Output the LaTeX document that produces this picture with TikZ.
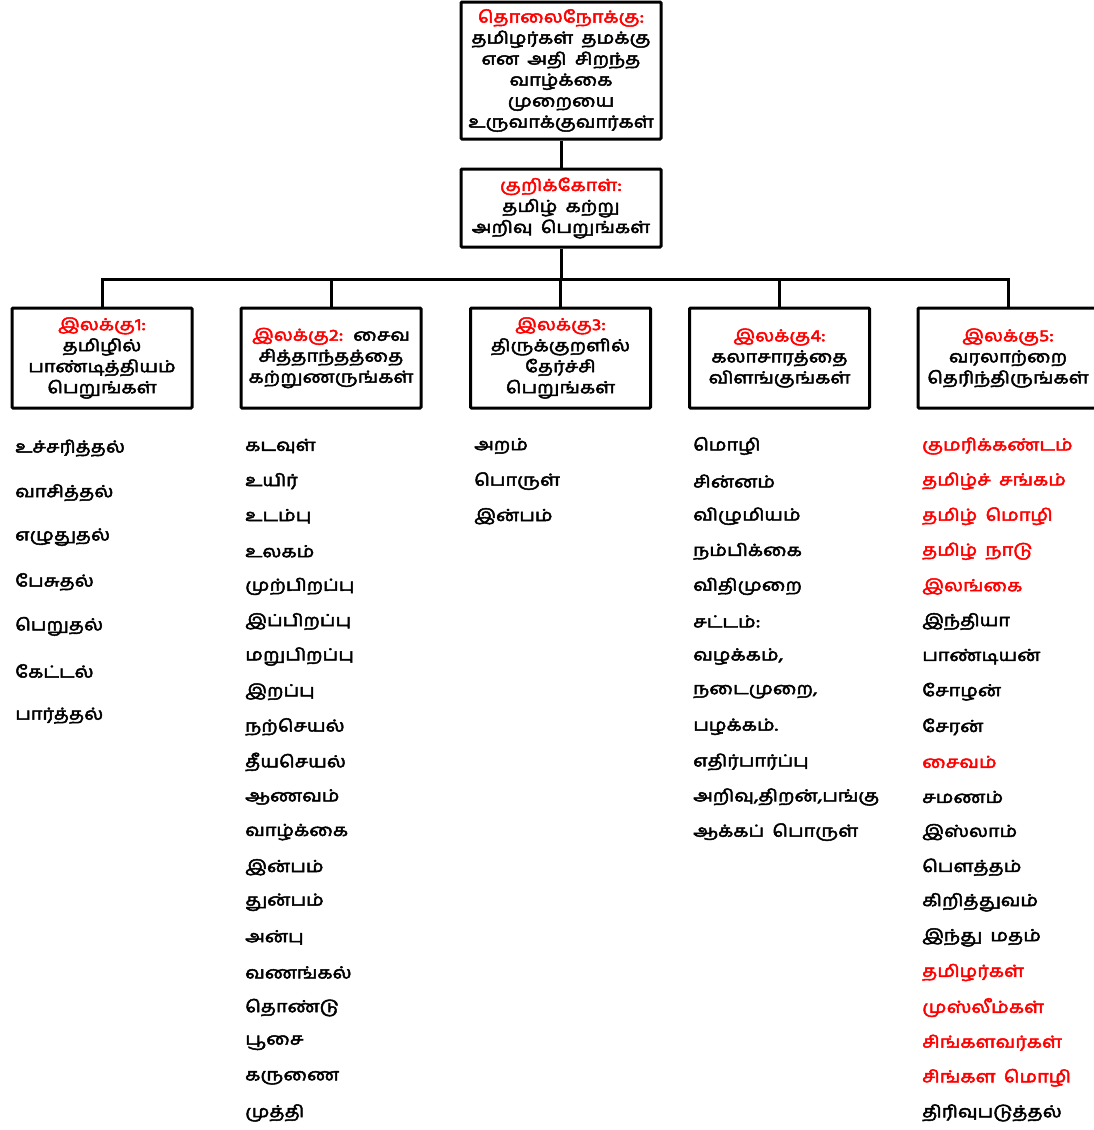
\documentclass[tikz,border=0pt]{standalone}
\usepackage{fontspec}
\setmainfont[Script=Tamil, FakeBold=3, FakeStretch=1.2, WordSpace=1.7]{Hind Madurai}
\definecolor{tred}{RGB}{255,0,0}
\tikzset{
  box/.style={draw=black, line width=3pt, rounded corners=1pt, fill=white, align=center,
    inner sep=2pt, font=\fontsize{16.5}{21}\selectfont},
  conn/.style={draw=black, line width=3pt},
  item/.style={anchor=west, inner sep=0pt, font=\fontsize{16.5}{20}\selectfont},
}
\begin{document}
\begin{tikzpicture}[x=1pt,y=-1pt]
\useasboundingbox[fill=white] (0,0) rectangle (1093,1130);
% boxes
\node[box, minimum width=200pt, minimum height=137pt] (vision) at (561,70.5)
  {\textcolor{tred}{தொலைநோக்கு:}\\தமிழர்கள் தமக்கு\\என அதி சிறந்த\\வாழ்க்கை\\முறையை\\உருவாக்குவார்கள்};
\node[box, minimum width=200pt, minimum height=78pt] (goal) at (561,208)
  {\textcolor{tred}{குறிக்கோள்:}\\தமிழ் கற்று\\அறிவு பெறுங்கள்};
\node[box, minimum width=180pt, minimum height=100pt] (b1) at (102,358)
  {\textcolor{tred}{இலக்கு1:}\\தமிழில்\\பாண்டித்தியம்\\பெறுங்கள்};
\node[box, minimum width=180pt, minimum height=100pt] (b2) at (331,358)
  {\textcolor{tred}{இலக்கு2:} சைவ\\சித்தாந்தத்தை\\கற்றுணருங்கள்};
\node[box, minimum width=180pt, minimum height=100pt] (b3) at (560.5,358)
  {\textcolor{tred}{இலக்கு3:}\\திருக்குறளில்\\தேர்ச்சி\\பெறுங்கள்};
\node[box, minimum width=180pt, minimum height=100pt] (b4) at (779.5,358)
  {\textcolor{tred}{இலக்கு4:}\\கலாசாரத்தை\\விளங்குங்கள்};
\node[box, minimum width=180pt, minimum height=100pt] (b5) at (1008,358)
  {\textcolor{tred}{இலக்கு5:}\\வரலாற்றை\\தெரிந்திருங்கள்};
% connectors
\coordinate (bar) at (561,279);
\draw[conn] (vision.south) -- (goal.north);
\draw[conn] (goal.south) -- (bar);
\draw[conn] (b1.north) -- (b1.north |- bar) -- (b5.north |- bar) -- (b5.north);
\draw[conn] (b2.north) -- (b2.north |- bar);
\draw[conn] (b3.north) -- (b3.north |- bar);
\draw[conn] (b4.north) -- (b4.north |- bar);
% column 1
\foreach \t [count=\i] in {உச்சரித்தல், வாசித்தல், எழுதுதல், பேசுதல், பெறுதல், கேட்டல், பார்த்தல்}
  \node[item] (a-\i) at (15, {448+44.6*(\i-1)}) {\t};
% column 2
\foreach \t [count=\i] in {கடவுள், உயிர், உடம்பு, உலகம், முற்பிறப்பு, இப்பிறப்பு, மறுபிறப்பு, இறப்பு, நற்செயல், தீயசெயல், ஆணவம், வாழ்க்கை, இன்பம், துன்பம், அன்பு, வணங்கல், தொண்டு, பூசை, கருணை, முத்தி}
  \node[item] (b-\i) at (245, {446+35.1*(\i-1)}) {\t};
% column 3
\foreach \t [count=\i] in {அறம், பொருள், இன்பம்}
  \node[item] (c-\i) at (474, {446+35.1*(\i-1)}) {\t};
% column 4
\foreach \t [count=\i] in {மொழி, சின்னம், விழுமியம், நம்பிக்கை, விதிமுறை, {சட்டம்:}, {வழக்கம்,}, {நடைமுறை,}, {பழக்கம்.}, எதிர்பார்ப்பு, {அறிவு,திறன்,பங்கு}, {ஆக்கப் பொருள்}}
  \node[item] (d-\i) at (693, {446+35.1*(\i-1)}) {\t};
% column 5
\foreach \t/\c [count=\i] in {குமரிக்கண்டம்/tred, தமிழ்ச் சங்கம்/tred, தமிழ் மொழி/tred, தமிழ் நாடு/tred, இலங்கை/tred, இந்தியா/black, பாண்டியன்/black, சோழன்/black, சேரன்/black, சைவம்/tred, சமணம்/black, இஸ்லாம்/black, பௌத்தம்/black, கிறித்துவம்/black, இந்து மதம்/black, தமிழர்கள்/tred, முஸ்லீம்கள்/tred, சிங்களவர்கள்/tred, சிங்கள மொழி/tred, திரிவுபடுத்தல்/black}
  \node[item, text=\c] (e-\i) at (922, {446+35.1*(\i-1)}) {\t};
\end{tikzpicture}
\end{document}
